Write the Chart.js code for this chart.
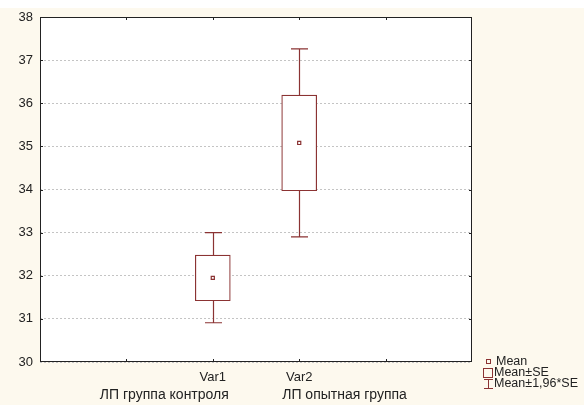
<!DOCTYPE html>
<html>
<head>
<meta charset="utf-8">
<script src="https://cdn.jsdelivr.net/npm/chart.js@4/dist/chart.umd.min.js"></script>
<style>
  html, body { margin: 0; padding: 0; background: #fdf9ee; }
  #wrap { width: 584px; height: 405px; }
</style>
</head>
<body>
<div id="wrap"><canvas id="boxChart"></canvas></div>
<script>
// data
const categories = ['Var1', 'Var2'];
const groupNames = ['ЛП группа контроля', 'ЛП опытная группа'];
const means = [31.95, 35.08];
const seLow = [31.42, 33.97];
const seHigh = [32.48, 36.19];
const ciLow = [30.91, 32.90];
const ciHigh = [33.00, 37.26];
const yMin = 30, yMax = 38;

const RED = '#8b3333';
const FONT = '"Liberation Sans", Arial, sans-serif';

// categories sit on slots 2 and 3 of a 0..5 axis
const slot = i => i + 2;

const frame = {
  id: 'frame',
  beforeDraw(chart) {
    const { ctx, chartArea: a } = chart;
    ctx.save();
    ctx.fillStyle = '#fdf9ee';
    ctx.fillRect(0, 0, chart.width, chart.height);
    ctx.fillStyle = '#ffffff';
    ctx.fillRect(0, 0, chart.width, 8);
    ctx.fillRect(a.left, a.top, a.right - a.left, a.bottom - a.top);
    ctx.restore();
  },
  afterDatasetsDraw(chart) {
    const { ctx, chartArea: a, scales } = chart;
    const x = scales.x, y = scales.y;
    ctx.save();
    // whiskers
    ctx.strokeStyle = RED;
    ctx.lineWidth = 1.2;
    categories.forEach((c, i) => {
      const px = Math.round(x.getPixelForValue(slot(i))) + 0.5;
      const parts = [[seHigh[i], ciHigh[i]], [seLow[i], ciLow[i]]];
      parts.forEach(([from, to]) => {
        const y1 = y.getPixelForValue(from), y2 = y.getPixelForValue(to);
        ctx.beginPath();
        ctx.moveTo(px, y1); ctx.lineTo(px, y2);
        ctx.moveTo(px - 8.5, y2); ctx.lineTo(px + 8.5, y2);
        ctx.stroke();
      });
    });
    // frame
    ctx.strokeStyle = '#222';
    ctx.lineWidth = 1;
    ctx.strokeRect(a.left + 0.5, a.top + 0.5, a.right - a.left - 1, a.bottom - a.top - 1);
    // inward tick marks
    ctx.beginPath();
    for (let v = 1; v < 5; v++) {
      const px = Math.round(x.getPixelForValue(v)) + 0.5;
      ctx.moveTo(px, a.bottom); ctx.lineTo(px, a.bottom - 3);
      ctx.moveTo(px, a.top); ctx.lineTo(px, a.top + 3);
    }
    for (let v = yMin + 1; v < yMax; v++) {
      const py = Math.round(y.getPixelForValue(v)) + 0.5;
      ctx.moveTo(a.left, py); ctx.lineTo(a.left + 3, py);
      ctx.moveTo(a.right, py); ctx.lineTo(a.right - 3, py);
    }
    ctx.stroke();
    // group names under the tick labels
    ctx.fillStyle = '#222';
    ctx.font = '14px ' + FONT;
    ctx.textBaseline = 'middle';
    ctx.textAlign = 'right';
    ctx.fillText(groupNames[0], x.getPixelForValue(slot(0)) + 16, a.bottom + 33);
    ctx.textAlign = 'left';
    ctx.fillText(groupNames[1], x.getPixelForValue(slot(1)) - 17, a.bottom + 33);
    // legend
    const lx = a.right + 16;
    ctx.font = '12.5px ' + FONT;
    ctx.strokeStyle = RED;
    ctx.lineWidth = 1;
    ctx.strokeRect(lx - 1.5, a.bottom - 2.5, 4, 4);
    ctx.fillStyle = '#222';
    ctx.fillText('Mean', lx + 8, a.bottom);
    ctx.strokeRect(lx - 4.5, a.bottom + 6.5, 9, 9);
    ctx.fillText('Mean±SE', lx + 6, a.bottom + 11);
    ctx.beginPath();
    ctx.moveTo(lx - 4, a.bottom + 17.5); ctx.lineTo(lx + 5, a.bottom + 17.5);
    ctx.moveTo(lx + 0.5, a.bottom + 17.5); ctx.lineTo(lx + 0.5, a.bottom + 26.5);
    ctx.moveTo(lx - 4, a.bottom + 26.5); ctx.lineTo(lx + 5, a.bottom + 26.5);
    ctx.stroke();
    ctx.fillText('Mean±1,96*SE', lx + 6, a.bottom + 22);
    ctx.restore();
  }
};

const boxData = categories.map((c, i) => ({ x: slot(i), y: [seLow[i], seHigh[i]] }));
const meanData = categories.map((c, i) => ({ x: slot(i), y: means[i] }));

new Chart(document.getElementById('boxChart').getContext('2d'), {
  data: {
    datasets: [
      {
        type: 'scatter',
        data: meanData,
        pointStyle: 'rect',
        pointRadius: 2.2,
        pointBackgroundColor: '#ffffff',
        pointBorderColor: RED,
        pointBorderWidth: 1.2,
        order: 0
      },
      {
        type: 'bar',
        data: boxData,
        backgroundColor: '#ffffff',
        borderColor: RED,
        borderWidth: 1.2,
        borderSkipped: false,
        barThickness: 35,
        order: 1
      }
    ]
  },
  plugins: [frame],
  options: {
    responsive: true,
    maintainAspectRatio: false,
    animation: false,
    layout: { padding: { top: 17, right: 112, left: 0, bottom: 0 } },
    plugins: {
      legend: { display: false },
      tooltip: { enabled: false }
    },
    scales: {
      x: {
        type: 'linear',
        min: 0,
        max: 5,
        offset: false,
        afterFit: s => { s.height = 43; },
        afterBuildTicks: s => { s.ticks = [0, 1, 2, 3, 4, 5].map(v => ({ value: v })); },
        grid: { display: false },
        border: { display: false },
        ticks: {
          autoSkip: false,
          maxRotation: 0,
          padding: 0,
          color: '#222',
          font: { family: FONT, size: 13 },
          callback: v => (v >= 2 && v - 2 < categories.length) ? categories[v - 2] : ''
        }
      },
      y: {
        min: yMin,
        max: yMax,
        afterFit: s => { s.width = 40; },
        ticks: {
          stepSize: 1,
          padding: 7,
          color: '#222',
          font: { family: FONT, size: 13 }
        },
        grid: {
          color: '#c4c4c4',
          drawTicks: false,
          tickLength: 0
        },
        border: { display: false, dash: [2, 2] }
      }
    }
  }
});
</script>
</body>
</html>
